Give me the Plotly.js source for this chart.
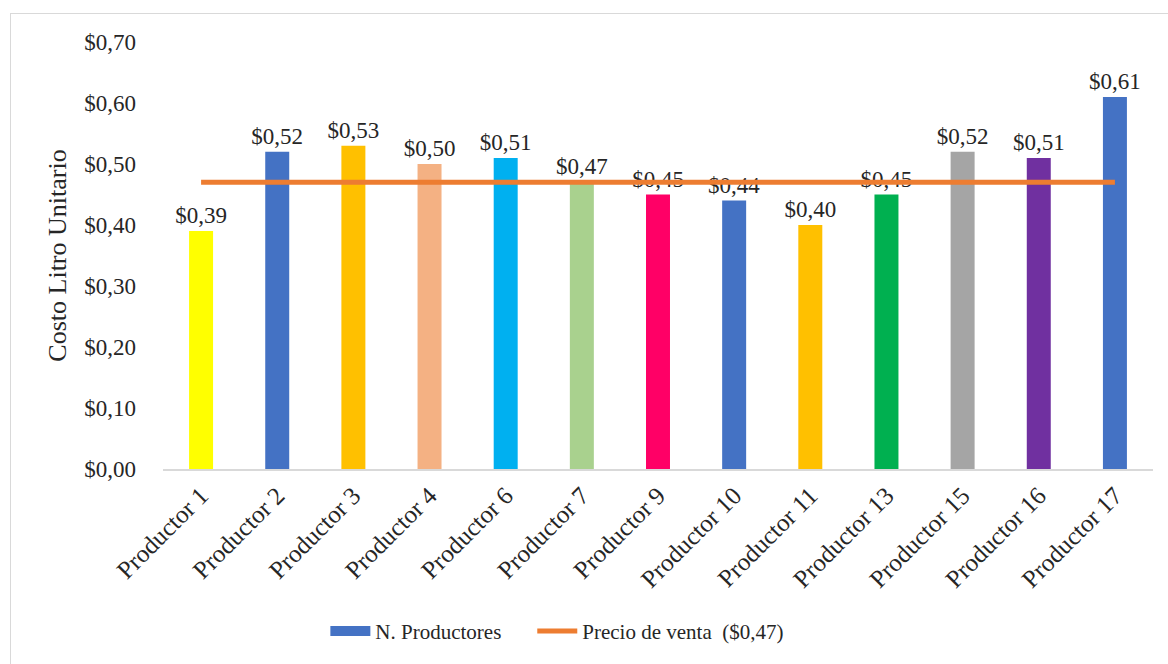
<!DOCTYPE html>
<html><head><meta charset="utf-8">
<script src="https://cdn.plot.ly/plotly-3.0.1.min.js"></script>
<style>
html,body{margin:0;padding:0;background:#fff;}
#wrap{position:relative;width:1168px;height:664px;}
#chart{width:1168px;height:664px;}
#frame{position:absolute;left:10px;top:13px;width:1170px;height:670px;border:1.5px solid #D9D9D9;pointer-events:none;box-sizing:border-box;}
</style></head>
<body>
<div id="wrap"><div id="chart"></div><div id="frame"></div></div>
<script>
const categories = ["Productor 1","Productor 2","Productor 3","Productor 4","Productor 6","Productor 7","Productor 9","Productor 10","Productor 11","Productor 13","Productor 15","Productor 16","Productor 17"];
const costos = [0.39,0.52,0.53,0.50,0.51,0.47,0.45,0.44,0.40,0.45,0.52,0.51,0.61];
const barColors = ["#FFFF00","#4472C4","#FFC000","#F4B183","#00B0F0","#A9D18E","#FF0066","#4472C4","#FFC000","#00B050","#A5A5A5","#7030A0","#4472C4"];
const precioVenta = 0.47;
const yTicks = [0,0.1,0.2,0.3,0.4,0.5,0.6,0.7];
const fmt = v => "$" + v.toFixed(2).replace(".", ",");
const FONT = "Liberation Serif";
const TXT = "#262626";

const traces = [
  {type:"bar", x:categories, y:costos, marker:{color:barColors}, showlegend:false,
   text:costos.map(fmt), textposition:"outside", cliponaxis:false, constraintext:"none",
   textfont:{family:FONT,size:23,color:TXT}, hoverinfo:"x+y"},
  {type:"scatter", mode:"lines", x:[categories[0]], y:[null], line:{color:"#4472C4", width:12},
   name:"N. Productores", showlegend:true, legend:"legend"},
  {type:"scatter", mode:"lines", x:categories, y:categories.map(()=>precioVenta),
   line:{color:"#ED7D31", width:5}, name:"Precio de venta  ($0,47)", legend:"legend2"}
];

const legendBase = {orientation:"h", xanchor:"left", y:-0.38, yanchor:"middle",
  font:{family:FONT,size:21,color:TXT}, itemwidth:40, bgcolor:"rgba(0,0,0,0)"};

const layout = {
  width:1168, height:664,
  margin:{l:163, r:15, t:42, b:193},
  paper_bgcolor:"#fff", plot_bgcolor:"#fff",
  font:{family:FONT, size:21, color:TXT},
  barmode:"overlay", bargap:0.685,
  separators:",.",
  xaxis:{type:"category", tickangle:-45, showgrid:false, showline:true, linecolor:"#D9D9D9", linewidth:2,
         ticks:"", tickfont:{family:FONT,size:25,color:TXT}, zeroline:false},
  yaxis:{range:[0,0.7], tickvals:yTicks, ticktext:yTicks.map(fmt), showgrid:false, zeroline:false,
         showline:false, ticks:"", ticklabelstandoff:26, tickfont:{family:FONT,size:23,color:TXT},
         title:{text:"Costo Litro Unitario", font:{family:FONT,size:26,color:TXT}, standoff:10}},
  legend:Object.assign({}, legendBase, {x:0.164}),
  legend2:Object.assign({}, legendBase, {x:0.373}),
  showlegend:true
};
Plotly.newPlot("chart", traces, layout, {displayModeBar:false, staticPlot:true});
</script>
</body></html>
